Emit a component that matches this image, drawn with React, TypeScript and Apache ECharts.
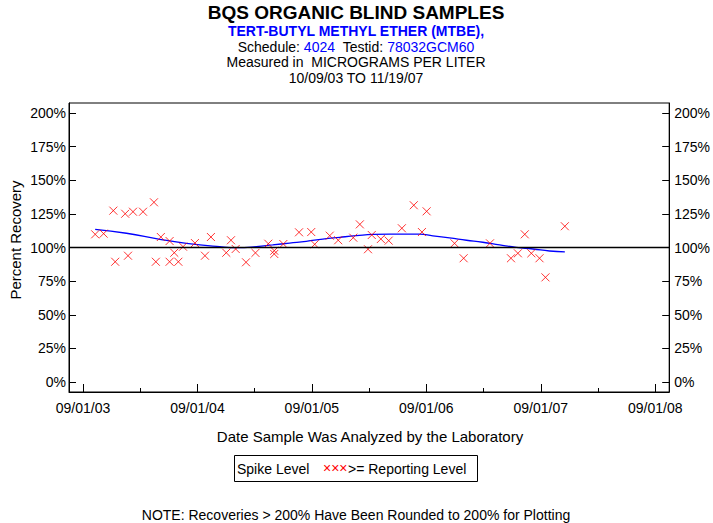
import React, { useEffect, useRef } from "react";
import * as echarts from "echarts";

const FONT = "'Liberation Sans', Arial, Helvetica, sans-serif";

const TITLE = "BQS ORGANIC BLIND SAMPLES";
const ANALYTE = "TERT-BUTYL METHYL ETHER (MTBE),";
const SCHEDULE = "4024";
const TESTID = "78032GCM60";
const UNITS = "Measured in  MICROGRAMS PER LITER";
const DATE_RANGE = "10/09/03 TO 11/19/07";
const X_NAME = "Date Sample Was Analyzed by the Laboratory";
const Y_NAME = "Percent Recovery";
const NOTE = "NOTE: Recoveries > 200% Have Been Rounded to 200% for Plotting";

// Tick anchors (Sept 1 of each year) and labels
const tickYears = [2003, 2004, 2005, 2006, 2007, 2008];
const xTickLabels = ["09/01/03", "09/01/04", "09/01/05", "09/01/06", "09/01/07", "09/01/08"];
const yTickValues = [0, 25, 50, 75, 100, 125, 150, 175, 200];

// Sample data (recovery, %)
const sampleDates = [
  "2003-10-10", "2003-11-06", "2003-12-07", "2003-12-13", "2004-01-14", "2004-01-23",
  "2004-02-08", "2004-03-11", "2004-04-15", "2004-04-21", "2004-05-07", "2004-06-04",
  "2004-06-04", "2004-06-19", "2004-07-02", "2004-07-17", "2004-08-24", "2004-09-25",
  "2004-10-14", "2004-12-02", "2004-12-17", "2005-01-01", "2005-02-03", "2005-03-05",
  "2005-04-15", "2005-05-04", "2005-05-04", "2005-06-02", "2005-07-22", "2005-08-30",
  "2005-09-10", "2005-10-28", "2005-11-24", "2006-01-11", "2006-02-01", "2006-02-27",
  "2006-03-11", "2006-04-09", "2006-05-04", "2006-06-15", "2006-07-23", "2006-08-18",
  "2006-09-02", "2006-11-30", "2006-12-29", "2007-03-23", "2007-05-29", "2007-06-20",
  "2007-07-12", "2007-08-02", "2007-08-28", "2007-09-16", "2007-11-17",
];
const recoveries = [
  109.8, 110.3, 127.4, 89.4, 125.1, 93.9,
  126.6, 126.6, 133.6, 89.4, 107.8, 104.8,
  89.4, 96.1, 89.4, 100.6, 103.3, 93.9,
  107.8, 96.1, 105.4, 98.9, 89.0, 96.0,
  102.8, 97.6, 95.2, 102.6, 111.3, 111.5,
  102.4, 108.8, 105.4, 107.3, 117.2, 98.7,
  109.3, 106.3, 105.1, 114.3, 131.4, 111.5,
  126.9, 103.1, 92.0, 103.1, 92.0, 95.7,
  109.8, 95.7, 92.0, 77.8, 115.8,
];

// Smoothed trend line
const trendDates = [
  "2003-10-10", "2004-01-18", "2004-05-04", "2004-07-28", "2004-11-11", "2005-01-03",
  "2005-03-08", "2005-04-29", "2005-06-22", "2005-08-14", "2005-10-06", "2005-11-29",
  "2006-01-21", "2006-03-15", "2006-05-07", "2006-06-29", "2006-08-11", "2006-09-22",
  "2006-11-14", "2007-01-07", "2007-02-28", "2007-04-23", "2007-06-15", "2007-08-07",
  "2007-09-29", "2007-11-17",
];
const trendValues = [
  113.5, 110.6, 106.1, 103.1, 100.6, 99.9,
  100.6, 101.9, 103.3, 104.6, 106.3, 107.6,
  108.8, 109.8, 110.0, 110.0, 110.0, 108.6,
  107.1, 105.4, 103.9, 101.9, 100.1, 98.9,
  97.4, 96.7,
];

const REFERENCE = 100;

// Convert a date to "years since 09/01/03", piecewise between Sept 1 anchors
function toX(d: string): number {
  const [y, m, day] = d.split("-").map(Number);
  const t = Date.UTC(y, m - 1, day);
  for (let k = 0; k < tickYears.length - 1; k++) {
    const a = Date.UTC(tickYears[k], 8, 1);
    const b = Date.UTC(tickYears[k + 1], 8, 1);
    if (t >= a && t < b) return k + (t - a) / (b - a);
  }
  const a0 = Date.UTC(tickYears[0], 8, 1);
  const b0 = Date.UTC(tickYears[1], 8, 1);
  return (t - a0) / (b0 - a0);
}

const X_MIN = -0.1222;
const X_MAX = 5.1222;
const Y_MIN = -7.43;
const Y_MAX = 207.43;

export default function App() {
  const ref = useRef<HTMLDivElement>(null);
  useEffect(() => {
    document.body.style.margin = "0";
    if (!ref.current) return;
    const chart = echarts.init(ref.current, null, { renderer: "svg" });
    const points = sampleDates.map((d, i) => [toX(d), recoveries[i]]);
    const trend = trendDates.map((d, i) => [toX(d), trendValues[i]]);
    const majorTicks = xTickLabels.map((_, i) => i);
    const minorTicks = majorTicks.slice(0, -1).map((v) => v + 0.5);
    const axisText = { color: "#000", fontSize: 14, fontFamily: FONT };
    const yAxisBase = {
      type: "value",
      min: Y_MIN,
      max: Y_MAX,
      splitLine: { show: false },
      axisLine: { show: true, onZero: false, lineStyle: { color: "#000", width: 1 } },
      axisTick: { show: true, inside: true, length: 7, customValues: yTickValues, lineStyle: { color: "#000" } },
    };
    chart.setOption({
      animation: false,
      backgroundColor: "#fff",
      grid: {
        left: 69, right: 43, top: 103, bottom: 131,
        show: true, borderColor: "#000", borderWidth: 1, backgroundColor: "transparent",
      },
      xAxis: [
        {
          type: "value", min: X_MIN, max: X_MAX, position: "bottom",
          splitLine: { show: false },
          axisLine: { show: true, onZero: false, lineStyle: { color: "#000" } },
          axisTick: { show: true, inside: true, length: 8, customValues: majorTicks, lineStyle: { color: "#000" } },
          axisLabel: {
            ...axisText, margin: 9, customValues: majorTicks,
            formatter: (v: number) => xTickLabels[Math.round(v)] ?? "",
          },
        },
        {
          type: "value", min: X_MIN, max: X_MAX, position: "bottom",
          splitLine: { show: false },
          axisLine: { show: false, onZero: false },
          axisTick: { show: true, inside: true, length: 4, customValues: minorTicks, lineStyle: { color: "#000" } },
          axisLabel: { show: false },
        },
      ],
      yAxis: [
        {
          ...yAxisBase, position: "left",
          axisLabel: { ...axisText, margin: 3, customValues: yTickValues, formatter: (v: number) => `${v}%` },
        },
        {
          ...yAxisBase, position: "right",
          axisLabel: { ...axisText, margin: 5, customValues: yTickValues, formatter: (v: number) => `${v}%` },
        },
      ],
      series: [
        {
          type: "line", data: trend, smooth: true, showSymbol: false, xAxisIndex: 0, yAxisIndex: 0,
          lineStyle: { color: "#0000ff", width: 1.3 }, z: 3,
          markLine: {
            silent: true, symbol: "none", label: { show: false },
            lineStyle: { color: "#000", width: 1.3, type: "solid" },
            data: [{ yAxis: REFERENCE }],
          },
        },
        {
          type: "scatter", data: points, xAxisIndex: 0, yAxisIndex: 0,
          symbol: "path://M0,0L10,10M10,0L0,10", symbolSize: 8,
          itemStyle: { color: "#ff0000", borderColor: "#ff0000", borderWidth: 1 }, z: 4,
        },
      ],
      graphic: [
        { type: "text", x: 356, y: 12, style: { text: TITLE, font: `bold 19px ${FONT}`, fill: "#000", textAlign: "center", textVerticalAlign: "middle" } },
        { type: "text", x: 356, y: 31, style: { text: ANALYTE, font: `bold 14px ${FONT}`, fill: "#0000ff", textAlign: "center", textVerticalAlign: "middle" } },
        {
          type: "text", x: 356, y: 47,
          style: {
            text: `{a|Schedule: }{b|${SCHEDULE}}{a|  Testid: }{b|${TESTID}}`,
            textAlign: "center", textVerticalAlign: "middle",
            rich: {
              a: { fontSize: 14, fontFamily: FONT, fill: "#000" },
              b: { fontSize: 14, fontFamily: FONT, fill: "#0000ff" },
            },
          },
        },
        { type: "text", x: 356, y: 62, style: { text: UNITS, font: `14px ${FONT}`, fill: "#000", textAlign: "center", textVerticalAlign: "middle" } },
        { type: "text", x: 356, y: 78, style: { text: DATE_RANGE, font: `14px ${FONT}`, fill: "#000", textAlign: "center", textVerticalAlign: "middle" } },
        { type: "text", x: 15, y: 240, rotation: Math.PI / 2, style: { text: Y_NAME, font: `15px ${FONT}`, fill: "#000", textAlign: "center", textVerticalAlign: "middle" } },
        { type: "text", x: 370, y: 436, style: { text: X_NAME, font: `15px ${FONT}`, fill: "#000", textAlign: "center", textVerticalAlign: "middle" } },
        { type: "rect", shape: { x: 234.5, y: 455.5, width: 243, height: 26 }, style: { fill: "#fff", stroke: "#000", lineWidth: 1 } },
        { type: "text", x: 237, y: 469, style: { text: "Spike Level", font: `14px ${FONT}`, fill: "#000", textVerticalAlign: "middle" } },
        { type: "text", x: 323, y: 468, style: { text: "×××", font: `14px ${FONT}`, fill: "#ff0000", textVerticalAlign: "middle" } },
        { type: "text", x: 348, y: 469, style: { text: ">= Reporting Level", font: `14px ${FONT}`, fill: "#000", textVerticalAlign: "middle" } },
        { type: "text", x: 356, y: 515, style: { text: NOTE, font: `14px ${FONT}`, fill: "#000", textAlign: "center", textVerticalAlign: "middle" } },
      ],
    });
    return () => chart.dispose();
  }, []);
  return <div ref={ref} style={{ width: 713, height: 523 }} />;
}
